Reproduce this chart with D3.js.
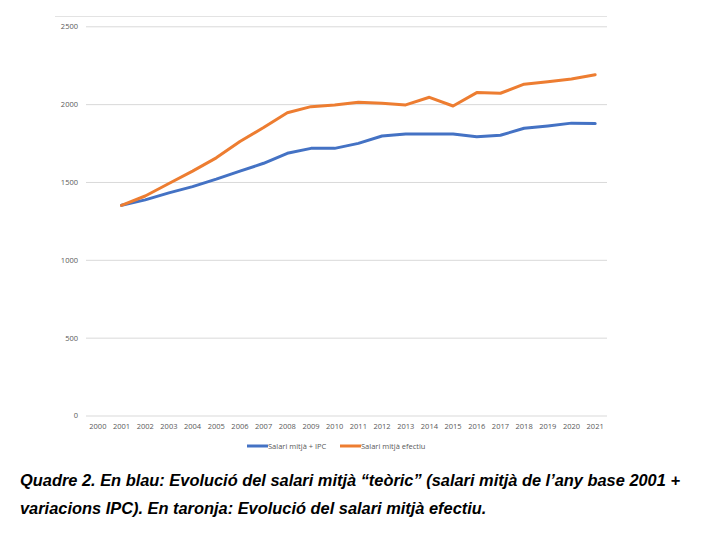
<!DOCTYPE html>
<html><head><meta charset="utf-8">
<script src="https://cdn.jsdelivr.net/npm/d3@7"></script>
<style>body{margin:0;background:#fff}svg{display:block}</style>
</head><body>
<script>
const years = ["2000","2001","2002","2003","2004","2005","2006","2007","2008","2009","2010","2011","2012","2013","2014","2015","2016","2017","2018","2019","2020","2021"];
const seriesNames = ["Salari mitjà + IPC", "Salari mitjà efectiu"];
const blueValues = [null,1350,1385,1430,1470,1518,1570,1620,1684,1716,1716,1748,1795,1808,1808,1808,1791,1800,1845,1860,1878,1875];
const orangeValues = [null,1350,1410,1490,1570,1655,1760,1850,1945,1984,1995,2012,2005,1995,2044,1988,2074,2070,2128,2144,2162,2189];
const yTicks = [0,500,1000,1500,2000,2500];
const caption1 = "Quadre 2. En blau: Evolució del salari mitjà “teòric” (salari mitjà de l’any base 2001 +";
const caption2 = "variacions IPC). En taronja: Evolució del salari mitjà efectiu.";

const W=709,H=538;
const svg=d3.select("body").append("svg").attr("width",W).attr("height",H);
const x=d3.scaleBand().domain(years).range([86,607]);
const y=d3.scaleLinear().domain([0,2500]).range([415.5,26.3]);
const font="'Open Sans', Calibri, sans-serif";

svg.append("line").attr("x1",55).attr("x2",607).attr("y1",16.5).attr("y2",16.5).attr("stroke","#e3e3e3");

const ya=d3.axisLeft(y).tickValues(yTicks).tickFormat(d3.format("d")).tickSize(-(607-86)).tickPadding(8);
const gy=svg.append("g").attr("transform","translate(86,0)").call(ya);
gy.select(".domain").remove();
gy.selectAll("line").attr("stroke","#d9d9d9");
gy.selectAll("text").attr("font-family",font).attr("font-size",7.5).attr("fill","#595959");

const xa=d3.axisBottom(x).tickSize(0).tickPadding(8);
const gx=svg.append("g").attr("transform","translate(0,415.5)").call(xa);
gx.select(".domain").remove();
gx.selectAll("text").attr("font-family",font).attr("font-size",7.5).attr("fill","#595959");

const line=d3.line().defined(d=>d.v!=null).x(d=>x(d.k)+x.bandwidth()/2).y(d=>y(d.v));
const data=[{vals:blueValues,c:"#4472C4"},{vals:orangeValues,c:"#ED7D31"}];
data.forEach(s=>{
  svg.append("path").datum(years.map((k,i)=>({k,v:s.vals[i]})))
    .attr("d",line).attr("fill","none").attr("stroke",s.c).attr("stroke-width",3)
    .attr("stroke-linejoin","round").attr("stroke-linecap","round");
});

const lg=[{x:247,c:"#4472C4",t:seriesNames[0]},{x:340,c:"#ED7D31",t:seriesNames[1]}];
lg.forEach(l=>{
  svg.append("line").attr("x1",l.x).attr("x2",l.x+21).attr("y1",446).attr("y2",446).attr("stroke",l.c).attr("stroke-width",3);
  svg.append("text").attr("x",l.x+21).attr("y",448.5).attr("font-family",font).attr("font-size",7.5).attr("fill","#595959").text(l.t);
});

const cf="'Liberation Sans', Arial, sans-serif";
[[caption1,486],[caption2,514]].forEach(([t,yy])=>{
  svg.append("text").attr("x",20).attr("y",yy).attr("font-family",cf).attr("font-size",16.4)
    .attr("font-weight","bold").attr("font-style","italic").attr("fill","#000").text(t);
});
</script>
</body></html>
